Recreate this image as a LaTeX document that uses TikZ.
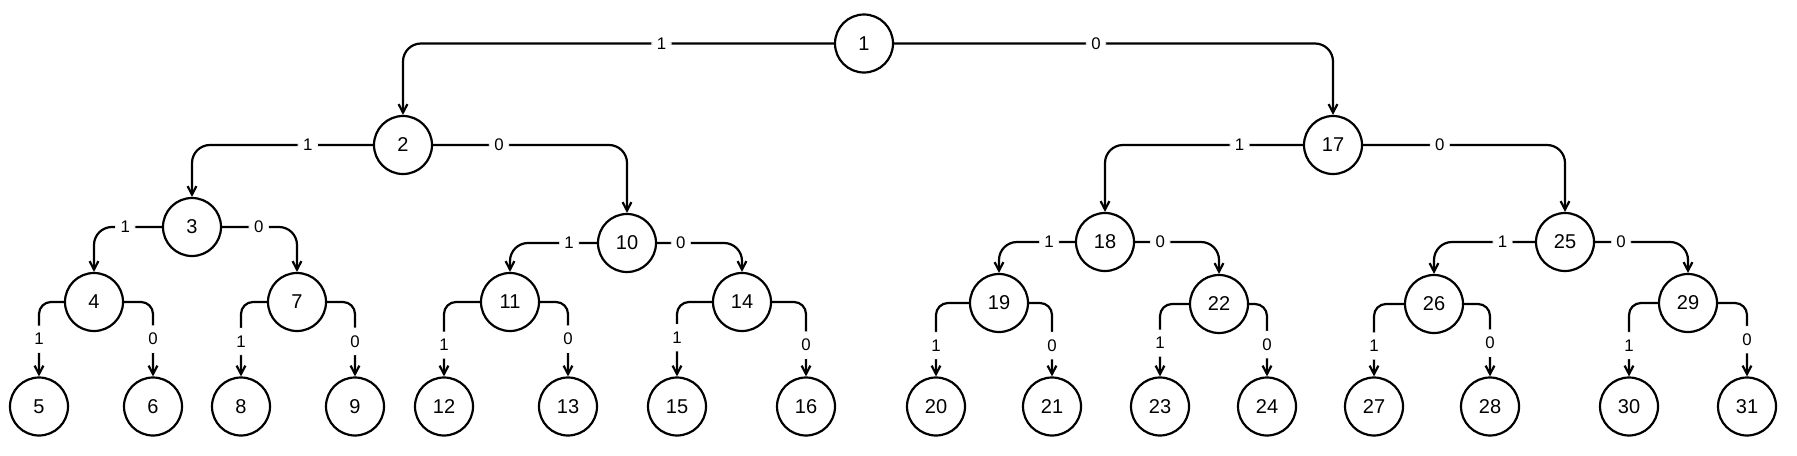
\documentclass[tikz,border=0pt]{standalone}
\usepackage{fontspec}
\setmainfont{Liberation Sans}
\usetikzlibrary{arrows.meta}

\begin{document}
\begin{tikzpicture}[x=0.5pt, y=-0.5pt,
  vtx/.style={draw, circle, line width=1.1pt, minimum size=29pt, inner sep=0pt, font=\fontsize{10}{12}\selectfont},
  edge/.style={line width=1.1pt, rounded corners=9pt, -{Straight Barb[length=4.2pt, width=4.4pt]}},
  leafedge/.style={edge, rounded corners=6pt},
  lbl/.style={fill=white, inner xsep=2.7pt, inner ysep=3.9pt, font=\fontsize{8.4}{10}\selectfont}]
  \useasboundingbox (0,0) rectangle (1797,455);
  % inner nodes
  \foreach \n/\x/\y in {1/864/43.5, 2/403/145, 17/1333/145,
      3/192/227, 10/627/243, 18/1105/242, 25/1565/242,
      4/94/302, 7/297/302, 11/510/302, 14/742/302,
      19/999/303, 22/1219/304, 26/1434/304, 29/1688/303}
    \node[vtx] (n\n) at (\x,\y) {\n};
  % leaves
  \foreach \n/\x in {5/39, 6/153, 8/241, 9/355, 12/444, 13/568, 15/677, 16/806,
      20/936, 21/1052, 23/1160, 24/1267, 27/1374, 28/1490, 30/1629, 31/1747}
    \node[vtx] (n\n) at (\x,406.5) {\n};
  % branches: 1 to the left, 0 to the right
  \foreach \p/\c/\s/\l/\t in {1/2/west/1/0.2, 1/17/east/0/0.23,
      2/3/west/1/0.18, 2/10/east/0/0.17, 17/18/west/1/0.16, 17/25/east/0/0.19,
      3/4/west/1/0.27, 3/7/east/0/0.245, 10/11/west/1/0.16, 10/14/east/0/0.14,
      18/19/west/1/0.17, 18/22/east/0/0.15, 25/26/west/1/0.16, 25/29/east/0/0.14}
    \draw[edge] (n\p.\s) -| node[lbl, pos=\t] {\l} (n\c.north);
  % last level
  \foreach \p/\c/\s/\l/\t in {4/5/west/1/0.75, 4/6/east/0/0.75, 7/8/west/1/0.765, 7/9/east/0/0.765,
      11/12/west/1/0.79, 11/13/east/0/0.75, 14/15/west/1/0.74, 14/16/east/0/0.79,
      19/20/west/1/0.79, 19/21/east/0/0.79, 22/23/west/1/0.77, 22/24/east/0/0.78,
      26/27/west/1/0.79, 26/28/east/0/0.77, 29/30/west/1/0.79, 29/31/east/0/0.75}
    \draw[leafedge] (n\p.\s) -| node[lbl, pos=\t] {\l} (n\c.north);
\end{tikzpicture}
\end{document}
